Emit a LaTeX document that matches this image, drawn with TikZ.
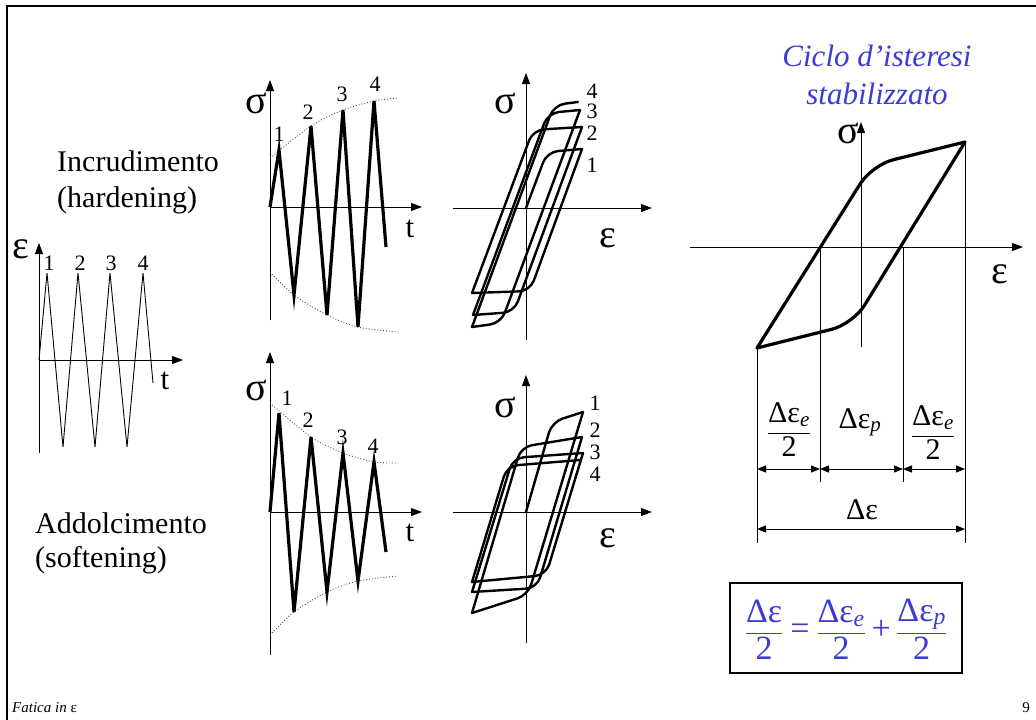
\documentclass[tikz,border=0pt]{standalone}
\usepackage{amsmath}
\usepackage{fontspec}
\setmainfont{Liberation Serif}
\usetikzlibrary{arrows.meta}
\definecolor{tblue}{RGB}{60,60,210}
\newcommand{\fsz}[1]{\fontsize{#1}{#1}\selectfont}
\begin{document}
\begin{tikzpicture}[x=1pt,y=-1pt,
  axis/.style={line width=0.9pt,-{Triangle[length=11pt,width=8pt]}},
  thinline/.style={line width=0.9pt},
  zig/.style={line width=3.2pt,line join=miter},
  loopline/.style={line width=2.4pt,rounded corners=11pt,line cap=round},
  bigloop/.style={line width=3.2pt,rounded corners=22pt,line cap=round},
  env/.style={line width=0.9pt,dotted,black!70},
  dimline/.style={line width=0.9pt,{Triangle[length=9pt,width=7pt]}-{Triangle[length=9pt,width=7pt]}},
  num/.style={inner sep=0pt,font=\fsz{22}},
  numb/.style={inner sep=0pt,font=\fsz{22}},
  greek/.style={inner sep=0pt,font=\fsz{40}},
  tl/.style={inner sep=0pt,font=\fsz{31}},
  txt/.style={inner sep=0pt,anchor=base west,font=\fsz{30}},
  ttl/.style={inner sep=0pt,anchor=base,font=\fsz{31}\itshape,text=tblue}
]
\useasboundingbox (0,0) rectangle (1036,720);
% frame
\draw[line width=2pt] (7,720) -- (7,6) -- (1036,6);

% ---------- left texts
\node[txt] (inc) at (57,171) {Incrudimento};
\node[txt] (hard) at (57,207) {(hardening)};
\node[txt] (add) at (35,533) {Addolcimento};
\node[txt] (soft) at (35,567) {(softening)};

% ---------- strain history
\draw[axis] (39,453) -- (39,243);
\draw[axis] (39,360) -- (183,360);
\draw[thinline] (39,360) -- (47,273) -- (63,447) -- (78,273) -- (95,447) -- (110,273) -- (127,447) -- (143,273) -- (153,383);
\node[greek] (epsA) at (21,249) {ε};
\node[num] (a1) at (49,263) {1};
\node[num] (a2) at (80,263) {2};
\node[num] (a3) at (111,263) {3};
\node[num] (a4) at (143,263) {4};
\node[tl] (tA) at (165,381) {t};

% ---------- hardening sigma-t
\draw[axis] (270,320) -- (270,80);
\draw[axis] (270,207) -- (422,207);
\draw[env] plot[smooth] coordinates {(270,158) (311,126) (343,110) (374,101) (398,98)};
\draw[env] plot[smooth] coordinates {(270,272) (294,295) (327,315) (358,327) (398,332)};
\draw[zig] (270,207) -- (279,150) -- (294,295) -- (311,126) -- (327,315) -- (343,110) -- (358,327) -- (374,101) -- (386,247);
\node[greek] (sB) at (256,103) {σ};
\node[num] (b1) at (279,134) {1};
\node[num] (b2) at (308,112) {2};
\node[num] (b3) at (342,94) {3};
\node[num] (b4) at (375,84) {4};
\node[tl] (tB) at (410,229) {t};

% ---------- softening sigma-t
\draw[axis] (270,655) -- (270,352);
\draw[axis] (270,512) -- (422,512);
\draw[env] plot[smooth] coordinates {(270,403) (311,437) (343,453) (374,462) (398,463)};
\draw[env] plot[smooth] coordinates {(270,635) (294,612) (327,592) (358,581) (398,576)};
\draw[zig] (270,512) -- (279,413) -- (294,612) -- (311,437) -- (327,592) -- (343,453) -- (358,581) -- (374,462) -- (386,552);
\node[greek] (sC) at (256,390) {σ};
\node[num] (c1) at (287,398) {1};
\node[num] (c2) at (308,420) {2};
\node[num] (c3) at (342,437) {3};
\node[num] (c4) at (373,446) {4};
\node[tl] (tC) at (410,533) {t};

% ---------- hardening loops
\draw[axis] (526,340) -- (526,73);
\draw[axis] (453,208) -- (652,208);
\draw[loopline] (526,208) -- (547,152) -- (582,149);
\draw[loopline] (582,149) -- (530,291) -- (472,293);
\draw[loopline] (472,293) -- (533,130) -- (582,127);
\draw[loopline] (582,127) -- (514,312) -- (473,315);
\draw[loopline] (473,315) -- (548,113) -- (580,110);
\draw[loopline] (580,110) -- (501,323) -- (472,327);
\draw[loopline] (472,327) -- (554,105) -- (578,102);
\node[greek] (sD) at (505,103) {σ};
\node[greek] (eD) at (608,238) {ε};
\node[numb] (d4) at (592,91) {4};
\node[numb] (d3) at (592,111) {3};
\node[numb] (d2) at (592,133) {2};
\node[numb] (d1) at (592,165) {1};

% ---------- softening loops
\draw[axis] (526,643) -- (526,375);
\draw[axis] (453,512) -- (652,512);
\draw[loopline] (526,512) -- (552,422) -- (583,412);
\draw[loopline] (583,412) -- (528,595) -- (472,613);
\draw[loopline] (472,613) -- (521,447) -- (582,437);
\draw[loopline] (582,437) -- (537,588) -- (472,592);
\draw[loopline] (472,592) -- (513,458) -- (583,453);
\draw[loopline] (583,453) -- (546,575) -- (472,582);
\draw[loopline] (472,582) -- (507,466) -- (580,460);
\node[greek] (sE) at (505,407) {σ};
\node[greek] (eE) at (608,538) {ε};
\node[numb] (e1) at (595,403) {1};
\node[numb] (e2) at (595,430) {2};
\node[numb] (e3) at (595,452) {3};
\node[numb] (e4) at (595,474) {4};

% ---------- stabilized loop
\node[ttl] (tit1) at (877,66) {Ciclo d’isteresi};
\node[ttl] (tit2) at (877,104) {stabilizzato};
\draw[axis] (861,347) -- (861,122);
\draw[axis] (690,247) -- (1023,247);
\draw[bigloop] (757,348) -- (872,165) -- (965,142);
\draw[bigloop] (965,142) -- (853,324) -- (757,348);
\node[greek] (sF) at (848,133) {σ};
\node[greek] (eF) at (1000,274) {ε};
% dimension lines
\draw[thinline] (757,348) -- (757,543);
\draw[thinline] (820,247) -- (820,482);
\draw[thinline] (903,247) -- (903,482);
\draw[thinline] (965,142) -- (965,543);
\draw[dimline] (757,469) -- (820,469);
\draw[dimline] (820,469) -- (903,469);
\draw[dimline] (903,469) -- (965,469);
\draw[dimline] (757,529) -- (965,529);
\node[inner sep=0pt,font=\fsz{30}] (f1) at (789,430) {$\dfrac{\text{Δε}_{\text{\itshape e}}}{\text{2}}$};
\node[inner sep=0pt,font=\fsz{30},anchor=base] (f2) at (860,428) {$\text{Δε}_{\text{\itshape p}}$};
\node[inner sep=0pt,font=\fsz{30}] (f3) at (933,433) {$\dfrac{\text{Δε}_{\text{\itshape e}}}{\text{2}}$};
\node[inner sep=0pt,font=\fsz{30}] (f4) at (862,510) {Δε};
% formula box
\draw[line width=1.2pt] (730,583) rectangle (962,673);
\node[inner sep=0pt,font=\fsz{34},text=tblue] (form) at (846,629)
  {$\dfrac{\text{Δε}}{\text{2}}\mathrel{\text{=}}\dfrac{\text{Δε}_{\text{\itshape e}}}{\text{2}}\mathbin{\text{+}}\dfrac{\text{Δε}_{\text{\itshape p}}}{\text{2}}$};

% ---------- footer
\node[inner sep=0pt,anchor=base west,font=\fsz{15}\itshape] (foot) at (12,712) {Fatica in \upshape ε};
\node[inner sep=0pt,anchor=base east,font=\fsz{15}] (page) at (1030,712) {9};
\end{tikzpicture}
\end{document}
